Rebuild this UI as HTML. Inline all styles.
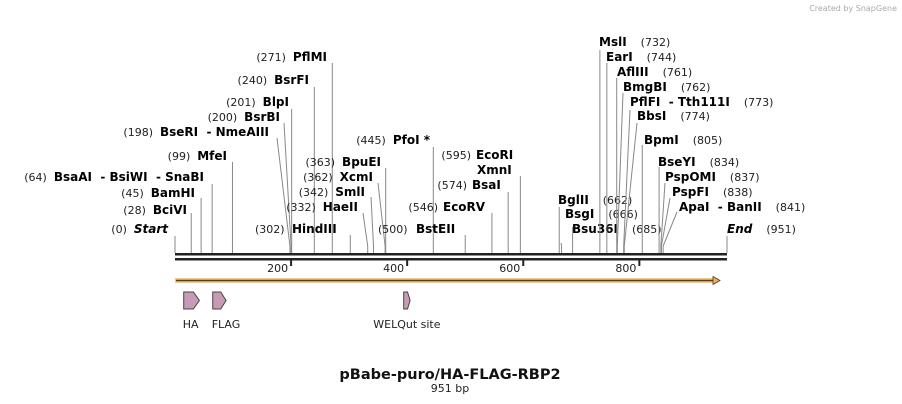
<!DOCTYPE html>
<html><head><meta charset="utf-8"><style>
html,body{margin:0;padding:0;background:#fff;}
svg{display:block;font-family:"DejaVu Sans","Liberation Sans",sans-serif;}
svg text{white-space:pre;}
.n{font-size:11px;fill:#222;}
.b{font-size:12px;font-weight:bold;fill:#000;}
</style></head><body>
<svg id="map" width="902" height="404" viewBox="0 0 902 404" xmlns="http://www.w3.org/2000/svg">
<text x="897" y="11" text-anchor="end" font-size="8" fill="#aaa">Created by SnapGene</text>
<g id="sites"></g>
<g id="axis"></g>
<g id="feat"></g>
<text x="450" y="379" text-anchor="middle" font-size="14.5" font-weight="bold" fill="#111">pBabe-puro/HA-FLAG-RBP2</text>
<text x="450" y="392" text-anchor="middle" font-size="11" fill="#222">951 bp</text>
</svg>
<script>
const totalBp = 951;
const siteNames = ["Start","BciVI","BamHI","BsaAI  - BsiWI  - SnaBI","MfeI","BseRI  - NmeAIII","BsrBI","BlpI","BsrFI","PflMI","HindIII","HaeII","SmlI","XcmI","BpuEI","PfoI *","BstEII","EcoRV","BsaI","XmnI","EcoRI","BglII","BsgI","Bsu36I","MslI","EarI","AflIII","BmgBI","PflFI  - Tth111I","BbsI","BpmI","BseYI","PspOMI","PspFI","ApaI  - BanII","End"];
const siteBps = [0,28,45,64,99,198,200,201,240,271,302,332,342,362,363,445,500,546,574,595,595,662,666,685,732,744,761,762,773,774,805,834,837,838,841,951];
const tickValues = [200,400,600,800];
const featNames = ["HA","FLAG","WELQut site"];
const featStart = [15,65,394];
const featEnd = [42,88,405];

const X0=175, X1=727;
const x = bp => X0 + bp/totalBp*(X1-X0);
const NS="http://www.w3.org/2000/svg";
function mk(tag, attrs, parent){const e=document.createElementNS(NS,tag);for(const k in attrs)e.setAttribute(k,attrs[k]);parent.appendChild(e);return e;}

const layout = [
 [168,233,'L',null,236,1],[187,214,'L',null,213,1],[195,197,'L',null,198,1],[204,181,'L',null,184,1],
 [227,160,'L',null,162,1],[269,136,'L',277,138,1],[280,121,'L',284,123,1],[289,106,'L',null,109,1],
 [309,84,'L',null,87,1],[327,61,'L',null,63,1],[292,233,'R2',null,235,1],[358,211,'L',363,213,1],
 [365,196,'L',371,197,1],[373,181,'L',378,183,1],[381,166,'L',null,168,1],[430,144,'L',null,147,1],
 [416,233,'R2',null,235,1],[443,211,'N',null,213,0],[472,189,'N',null,192,0],[477,174,'N',null,176,0],[476,159,'N',null,176,0],
 [558,204,'R',null,207,1],[565,218,'R',561,243,1],[572,233,'R',null,227,1],
 [599,46,'R',null,50,1],[606,61,'R',null,63,1],[617,76,'R',null,78,1],[623,91,'R',623,93,1],
 [630,106,'R',630,110,1],[637,120,'R',637,123,1],[644,144,'R',null,145,1],[658,166,'R',null,167,1],
 [665,181,'R',665,183,1],[672,196,'R',670,198,1],[679,211,'R',677,212,1],[727,233,'E',null,236,1]
];
const numX = {16:378, 10:255};
const sites=document.getElementById('sites');
siteNames.forEach((name,i)=>{
  const bp=siteBps[i], L=layout[i], sx=x(bp);
  const g=mk('g',{},sites);
  
  
  const tx=L[3]===null?sx:L[3];
  if(i!==19){
    mk('polyline',{points:`${tx},${L[4]} ${sx},${Math.max(L[4],246)} ${sx},253`,fill:'none',stroke:'#888','stroke-width':1},g);
  }
  const t=mk('text',{y:L[1]},g);
  const num='('+bp+')';
  const italic = (name==='Start'||name==='End');
  if(L[2]==='L'){
    t.setAttribute('x',L[0]);t.setAttribute('text-anchor','end');
    t.innerHTML=`<tspan class="n">${num}  </tspan><tspan class="b"${italic?' font-style="italic"':''}>${name}</tspan>`;
  } else if(L[2]==='R2'||L[2]==='N'){
    t.setAttribute('x',L[0]);
    t.innerHTML=`<tspan class="b">${name}</tspan>`;
    const nx = numX[i];
    if(nx!==undefined && L[5]){const t2=mk('text',{x:nx,y:L[1],class:'n'},g);t2.textContent=num;}
    if(i===17||i===18||i===20){const t2=mk('text',{x:L[0]-5,y:L[1],class:'n','text-anchor':'end'},g);t2.textContent=num;}
  } else {
    t.setAttribute('x',L[0]);
    t.innerHTML=`<tspan class="b"${italic?' font-style="italic"':''}>${name}</tspan><tspan class="n">    ${num}</tspan>`;
  }
});
const axis=document.getElementById('axis');
const bb=mk('g',{},axis);


mk('rect',{x:X0,y:253,width:X1-X0,height:2.5,fill:'#222'},bb);
mk('rect',{x:X0,y:258,width:X1-X0,height:2.5,fill:'#222'},bb);
tickValues.forEach(v=>{
  const g=mk('g',{},axis);
  
  
  mk('rect',{x:x(v)-1,y:259,width:2,height:7,fill:'#222'},g);
  const t=mk('text',{x:x(v)-3,y:272,'text-anchor':'end',class:'n'},g);t.textContent=v;
});
const feat=document.getElementById('feat');
const orf=mk('g',{},feat);


mk('rect',{x:175,y:278,width:543,height:5,fill:'#f7c97a'},orf);
mk('line',{x1:176,y1:280.5,x2:714,y2:280.5,stroke:'#4a3f30','stroke-width':1.6},orf);
mk('polygon',{points:'713,276.5 720,280.5 713,284.5',fill:'#f0b050',stroke:'#4a3f30','stroke-width':0.8},orf);
featNames.forEach((n,i)=>{
  const a=x(featStart[i]), b=x(featEnd[i]), w=b-a, head=Math.min(6,w*0.4);
  const g=mk('g',{},feat);
  
  
  mk('polygon',{points:`${a},292 ${b-head},292 ${b},300.5 ${b-head},309 ${a},309`,fill:'#c99ab5',stroke:'#444','stroke-width':1},g);
  const centered = w < 10;
  const t=mk('text',{x:centered?(a+b)/2:a-1,y:328,'text-anchor':centered?'middle':'start',class:'n','font-size':'12'},g);t.textContent=n;
});
</script>
</body></html>
